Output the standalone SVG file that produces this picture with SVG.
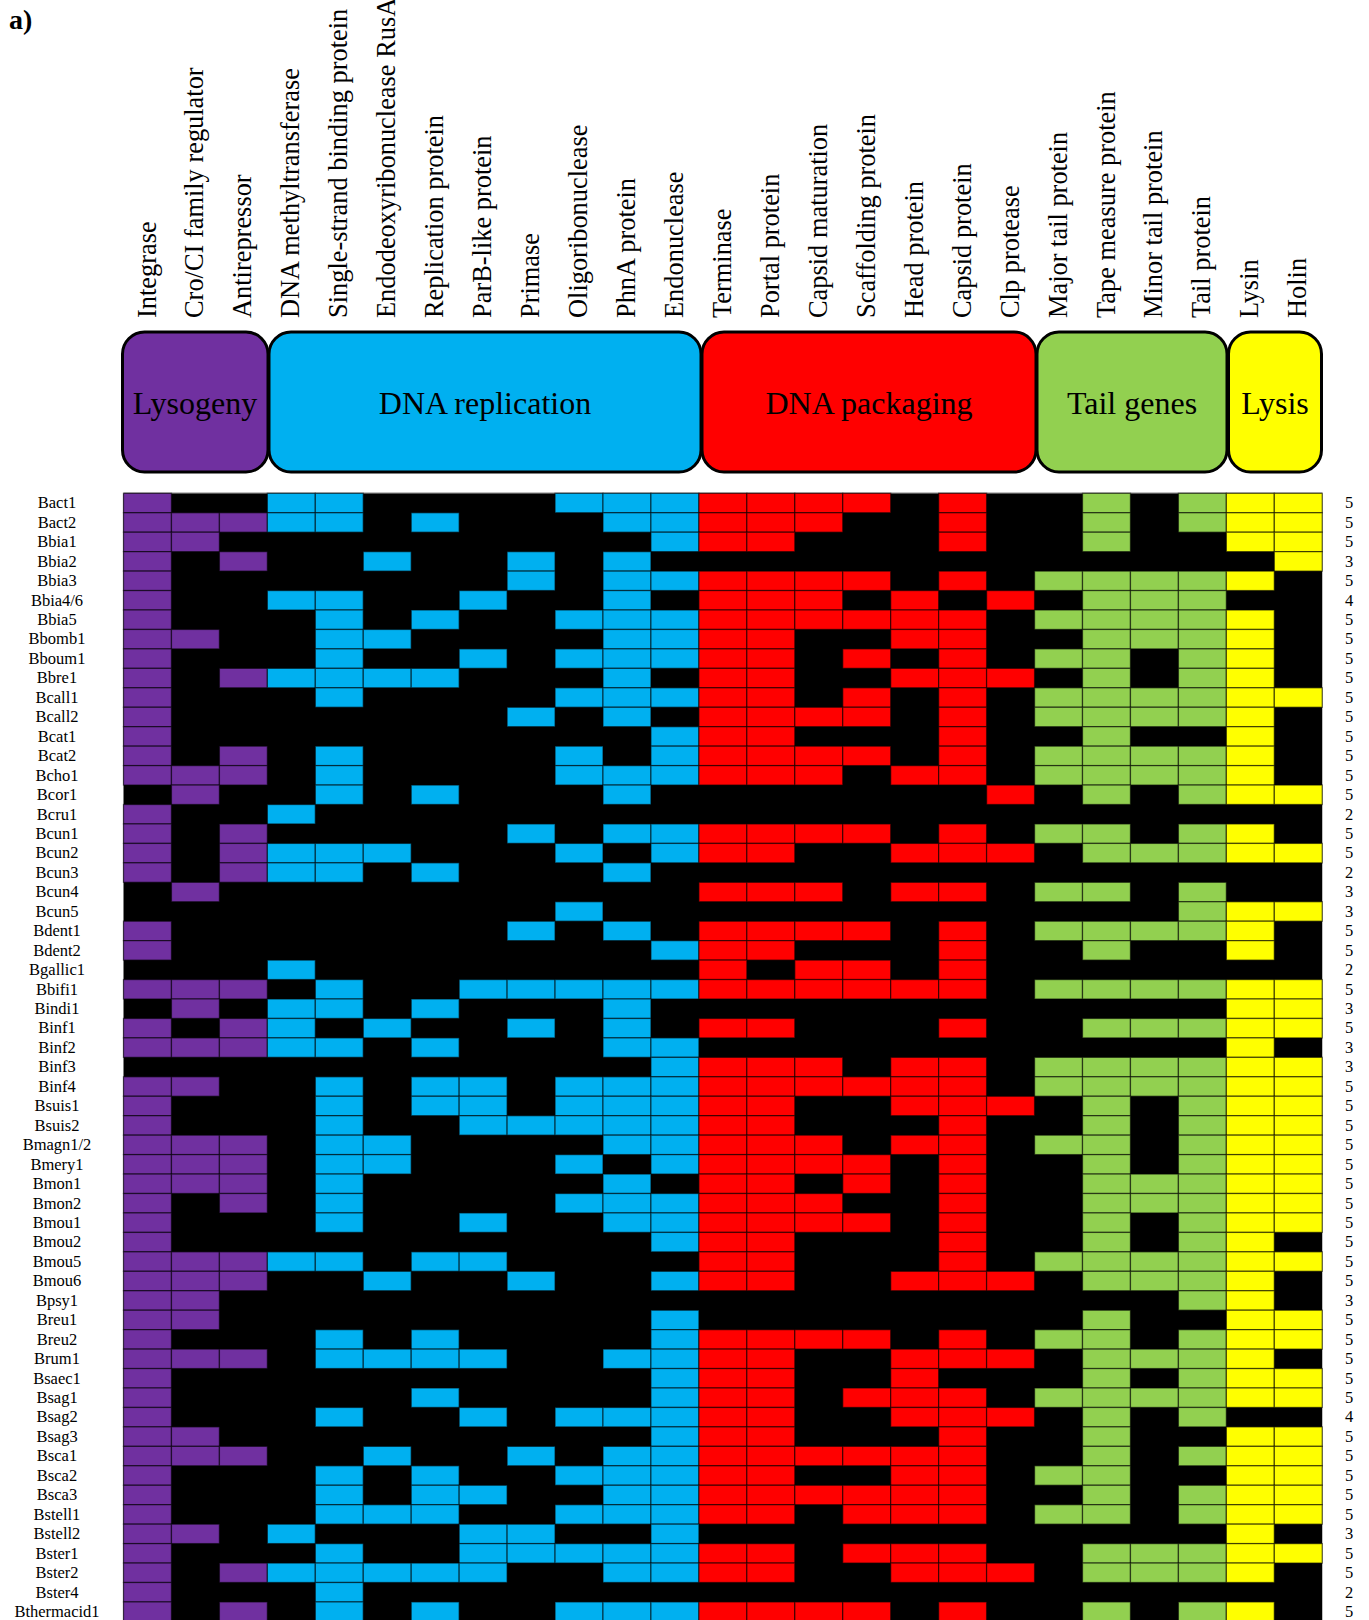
<svg xmlns="http://www.w3.org/2000/svg" xmlns:xlink="http://www.w3.org/1999/xlink" width="1369" height="1620" viewBox="0 0 1369 1620">
<style>
text{font-family:"Liberation Serif","Times New Roman",serif;fill:#000}
.cl{font-size:26.4px}
.cat{font-size:32px;text-anchor:middle}
.rl{font-size:16.5px;text-anchor:middle}
.rn{font-size:16.5px;text-anchor:middle}
.box{stroke:#000;stroke-width:3}
</style>
<defs>
<rect id="P" width="47.95" height="19.45" fill="#7030A0" stroke="#000" stroke-opacity="0.55" stroke-width="1.3"/>
<rect id="B" width="47.95" height="19.45" fill="#00B0F0" stroke="#000" stroke-opacity="0.55" stroke-width="1.3"/>
<rect id="R" width="47.95" height="19.45" fill="#FF0000" stroke="#000" stroke-opacity="0.55" stroke-width="1.3"/>
<rect id="G" width="47.95" height="19.45" fill="#92D050" stroke="#000" stroke-opacity="0.55" stroke-width="1.3"/>
<rect id="Y" width="47.95" height="19.45" fill="#FFFF00" stroke="#000" stroke-opacity="0.55" stroke-width="1.3"/>
</defs>
<rect width="1369" height="1620" fill="#fff"/>
<text x="9" y="29" style="font-size:28px;font-weight:bold">a)</text>

<g id="column-labels">
<text class="cl" transform="translate(155.5,318) rotate(-90)">Integrase</text>
<text class="cl" transform="translate(203.4,318) rotate(-90)">Cro/CI family regulator</text>
<text class="cl" transform="translate(251.4,318) rotate(-90)">Antirepressor</text>
<text class="cl" transform="translate(299.3,318) rotate(-90)">DNA methyltransferase</text>
<text class="cl" transform="translate(347.3,318) rotate(-90)">Single-strand binding protein</text>
<text class="cl" transform="translate(395.2,318) rotate(-90)">Endodeoxyribonuclease RusA</text>
<text class="cl" transform="translate(443.2,318) rotate(-90)">Replication protein</text>
<text class="cl" transform="translate(491.1,318) rotate(-90)">ParB-like protein</text>
<text class="cl" transform="translate(539.1,318) rotate(-90)">Primase</text>
<text class="cl" transform="translate(587,318) rotate(-90)">Oligoribonuclease</text>
<text class="cl" transform="translate(635,318) rotate(-90)">PhnA protein</text>
<text class="cl" transform="translate(682.9,318) rotate(-90)">Endonuclease</text>
<text class="cl" transform="translate(730.9,318) rotate(-90)">Terminase</text>
<text class="cl" transform="translate(778.8,318) rotate(-90)">Portal protein</text>
<text class="cl" transform="translate(826.8,318) rotate(-90)">Capsid maturation</text>
<text class="cl" transform="translate(874.7,318) rotate(-90)">Scaffolding protein</text>
<text class="cl" transform="translate(922.7,318) rotate(-90)">Head protein</text>
<text class="cl" transform="translate(970.6,318) rotate(-90)">Capsid protein</text>
<text class="cl" transform="translate(1018.6,318) rotate(-90)">Clp protease</text>
<text class="cl" transform="translate(1066.5,318) rotate(-90)">Major tail protein</text>
<text class="cl" transform="translate(1114.5,318) rotate(-90)">Tape measure protein</text>
<text class="cl" transform="translate(1162.4,318) rotate(-90)">Minor tail protein</text>
<text class="cl" transform="translate(1210.4,318) rotate(-90)">Tail protein</text>
<text class="cl" transform="translate(1258.3,318) rotate(-90)">Lysin</text>
<text class="cl" transform="translate(1306.3,318) rotate(-90)">Holin</text>
</g>

<g id="cat-lysogeny"><rect class="box" x="122.5" y="332" width="145.5" height="140" rx="22" fill="#7030A0"/><text class="cat" x="195" y="414">Lysogeny</text></g>
<g id="cat-dna-replication"><rect class="box" x="269" y="332" width="432" height="140" rx="22" fill="#00B0F0"/><text class="cat" x="485" y="414">DNA replication</text></g>
<g id="cat-dna-packaging"><rect class="box" x="702" y="332" width="334" height="140" rx="22" fill="#FF0000"/><text class="cat" x="869" y="414">DNA packaging</text></g>
<g id="cat-tail"><rect class="box" x="1037" y="332" width="190" height="140" rx="22" fill="#92D050"/><text class="cat" x="1132" y="414">Tail genes</text></g>
<g id="cat-lysis"><rect class="box" x="1228.5" y="332" width="93" height="140" rx="22" fill="#FFFF00"/><text class="cat" x="1275" y="414">Lysis</text></g>

<g id="grid">
<rect x="123.5" y="493.3" width="1198.75" height="1127" fill="#000"/>
<line x1="123.5" y1="492.6" x2="1322.25" y2="492.6" stroke="#bbb" stroke-width="1"/>

<g id="row-Bact1" transform="translate(0,493.3)"><text class="rl" x="57" y="15">Bact1</text><use href="#P" x="123.5"/><use href="#B" x="267.35"/><use href="#B" x="315.3"/><use href="#B" x="555.05"/><use href="#B" x="603"/><use href="#B" x="650.95"/><use href="#R" x="698.9"/><use href="#R" x="746.85"/><use href="#R" x="794.8"/><use href="#R" x="842.75"/><use href="#R" x="938.65"/><use href="#G" x="1082.5"/><use href="#G" x="1178.4"/><use href="#Y" x="1226.35"/><use href="#Y" x="1274.3"/><text class="rn" x="1349" y="15">5</text></g>
<g id="row-Bact2" transform="translate(0,512.75)"><text class="rl" x="57" y="15">Bact2</text><use href="#P" x="123.5"/><use href="#P" x="171.45"/><use href="#P" x="219.4"/><use href="#B" x="267.35"/><use href="#B" x="315.3"/><use href="#B" x="411.2"/><use href="#B" x="603"/><use href="#B" x="650.95"/><use href="#R" x="698.9"/><use href="#R" x="746.85"/><use href="#R" x="794.8"/><use href="#R" x="938.65"/><use href="#G" x="1082.5"/><use href="#G" x="1178.4"/><use href="#Y" x="1226.35"/><use href="#Y" x="1274.3"/><text class="rn" x="1349" y="15">5</text></g>
<g id="row-Bbia1" transform="translate(0,532.2)"><text class="rl" x="57" y="15">Bbia1</text><use href="#P" x="123.5"/><use href="#P" x="171.45"/><use href="#B" x="650.95"/><use href="#R" x="698.9"/><use href="#R" x="746.85"/><use href="#R" x="938.65"/><use href="#G" x="1082.5"/><use href="#Y" x="1226.35"/><use href="#Y" x="1274.3"/><text class="rn" x="1349" y="15">5</text></g>
<g id="row-Bbia2" transform="translate(0,551.65)"><text class="rl" x="57" y="15">Bbia2</text><use href="#P" x="123.5"/><use href="#P" x="219.4"/><use href="#B" x="363.25"/><use href="#B" x="507.1"/><use href="#B" x="603"/><use href="#Y" x="1274.3"/><text class="rn" x="1349" y="15">3</text></g>
<g id="row-Bbia3" transform="translate(0,571.1)"><text class="rl" x="57" y="15">Bbia3</text><use href="#P" x="123.5"/><use href="#B" x="507.1"/><use href="#B" x="603"/><use href="#B" x="650.95"/><use href="#R" x="698.9"/><use href="#R" x="746.85"/><use href="#R" x="794.8"/><use href="#R" x="842.75"/><use href="#R" x="938.65"/><use href="#G" x="1034.55"/><use href="#G" x="1082.5"/><use href="#G" x="1130.45"/><use href="#G" x="1178.4"/><use href="#Y" x="1226.35"/><text class="rn" x="1349" y="15">5</text></g>
<g id="row-Bbia4-6" transform="translate(0,590.55)"><text class="rl" x="57" y="15">Bbia4/6</text><use href="#P" x="123.5"/><use href="#B" x="267.35"/><use href="#B" x="315.3"/><use href="#B" x="459.15"/><use href="#B" x="603"/><use href="#R" x="698.9"/><use href="#R" x="746.85"/><use href="#R" x="794.8"/><use href="#R" x="890.7"/><use href="#R" x="986.6"/><use href="#G" x="1082.5"/><use href="#G" x="1130.45"/><use href="#G" x="1178.4"/><text class="rn" x="1349" y="15">4</text></g>
<g id="row-Bbia5" transform="translate(0,610)"><text class="rl" x="57" y="15">Bbia5</text><use href="#P" x="123.5"/><use href="#B" x="315.3"/><use href="#B" x="411.2"/><use href="#B" x="555.05"/><use href="#B" x="603"/><use href="#B" x="650.95"/><use href="#R" x="698.9"/><use href="#R" x="746.85"/><use href="#R" x="794.8"/><use href="#R" x="842.75"/><use href="#R" x="890.7"/><use href="#R" x="938.65"/><use href="#G" x="1034.55"/><use href="#G" x="1082.5"/><use href="#G" x="1130.45"/><use href="#G" x="1178.4"/><use href="#Y" x="1226.35"/><text class="rn" x="1349" y="15">5</text></g>
<g id="row-Bbomb1" transform="translate(0,629.45)"><text class="rl" x="57" y="15">Bbomb1</text><use href="#P" x="123.5"/><use href="#P" x="171.45"/><use href="#B" x="315.3"/><use href="#B" x="363.25"/><use href="#B" x="603"/><use href="#B" x="650.95"/><use href="#R" x="698.9"/><use href="#R" x="746.85"/><use href="#R" x="890.7"/><use href="#R" x="938.65"/><use href="#G" x="1082.5"/><use href="#G" x="1130.45"/><use href="#G" x="1178.4"/><use href="#Y" x="1226.35"/><text class="rn" x="1349" y="15">5</text></g>
<g id="row-Bboum1" transform="translate(0,648.9)"><text class="rl" x="57" y="15">Bboum1</text><use href="#P" x="123.5"/><use href="#B" x="315.3"/><use href="#B" x="459.15"/><use href="#B" x="555.05"/><use href="#B" x="603"/><use href="#B" x="650.95"/><use href="#R" x="698.9"/><use href="#R" x="746.85"/><use href="#R" x="842.75"/><use href="#R" x="938.65"/><use href="#G" x="1034.55"/><use href="#G" x="1082.5"/><use href="#G" x="1178.4"/><use href="#Y" x="1226.35"/><text class="rn" x="1349" y="15">5</text></g>
<g id="row-Bbre1" transform="translate(0,668.35)"><text class="rl" x="57" y="15">Bbre1</text><use href="#P" x="123.5"/><use href="#P" x="219.4"/><use href="#B" x="267.35"/><use href="#B" x="315.3"/><use href="#B" x="363.25"/><use href="#B" x="411.2"/><use href="#B" x="603"/><use href="#R" x="698.9"/><use href="#R" x="746.85"/><use href="#R" x="890.7"/><use href="#R" x="938.65"/><use href="#R" x="986.6"/><use href="#G" x="1082.5"/><use href="#G" x="1178.4"/><use href="#Y" x="1226.35"/><text class="rn" x="1349" y="15">5</text></g>
<g id="row-Bcall1" transform="translate(0,687.8)"><text class="rl" x="57" y="15">Bcall1</text><use href="#P" x="123.5"/><use href="#B" x="315.3"/><use href="#B" x="555.05"/><use href="#B" x="603"/><use href="#B" x="650.95"/><use href="#R" x="698.9"/><use href="#R" x="746.85"/><use href="#R" x="842.75"/><use href="#R" x="938.65"/><use href="#G" x="1034.55"/><use href="#G" x="1082.5"/><use href="#G" x="1130.45"/><use href="#G" x="1178.4"/><use href="#Y" x="1226.35"/><use href="#Y" x="1274.3"/><text class="rn" x="1349" y="15">5</text></g>
<g id="row-Bcall2" transform="translate(0,707.25)"><text class="rl" x="57" y="15">Bcall2</text><use href="#P" x="123.5"/><use href="#B" x="507.1"/><use href="#B" x="603"/><use href="#R" x="698.9"/><use href="#R" x="746.85"/><use href="#R" x="794.8"/><use href="#R" x="842.75"/><use href="#R" x="938.65"/><use href="#G" x="1034.55"/><use href="#G" x="1082.5"/><use href="#G" x="1130.45"/><use href="#G" x="1178.4"/><use href="#Y" x="1226.35"/><text class="rn" x="1349" y="15">5</text></g>
<g id="row-Bcat1" transform="translate(0,726.7)"><text class="rl" x="57" y="15">Bcat1</text><use href="#P" x="123.5"/><use href="#B" x="650.95"/><use href="#R" x="698.9"/><use href="#R" x="746.85"/><use href="#R" x="938.65"/><use href="#G" x="1082.5"/><use href="#Y" x="1226.35"/><text class="rn" x="1349" y="15">5</text></g>
<g id="row-Bcat2" transform="translate(0,746.15)"><text class="rl" x="57" y="15">Bcat2</text><use href="#P" x="123.5"/><use href="#P" x="219.4"/><use href="#B" x="315.3"/><use href="#B" x="555.05"/><use href="#B" x="650.95"/><use href="#R" x="698.9"/><use href="#R" x="746.85"/><use href="#R" x="794.8"/><use href="#R" x="842.75"/><use href="#R" x="938.65"/><use href="#G" x="1034.55"/><use href="#G" x="1082.5"/><use href="#G" x="1130.45"/><use href="#G" x="1178.4"/><use href="#Y" x="1226.35"/><text class="rn" x="1349" y="15">5</text></g>
<g id="row-Bcho1" transform="translate(0,765.6)"><text class="rl" x="57" y="15">Bcho1</text><use href="#P" x="123.5"/><use href="#P" x="171.45"/><use href="#P" x="219.4"/><use href="#B" x="315.3"/><use href="#B" x="555.05"/><use href="#B" x="603"/><use href="#B" x="650.95"/><use href="#R" x="698.9"/><use href="#R" x="746.85"/><use href="#R" x="794.8"/><use href="#R" x="890.7"/><use href="#R" x="938.65"/><use href="#G" x="1034.55"/><use href="#G" x="1082.5"/><use href="#G" x="1130.45"/><use href="#G" x="1178.4"/><use href="#Y" x="1226.35"/><text class="rn" x="1349" y="15">5</text></g>
<g id="row-Bcor1" transform="translate(0,785.05)"><text class="rl" x="57" y="15">Bcor1</text><use href="#P" x="171.45"/><use href="#B" x="315.3"/><use href="#B" x="411.2"/><use href="#B" x="603"/><use href="#R" x="986.6"/><use href="#G" x="1082.5"/><use href="#G" x="1178.4"/><use href="#Y" x="1226.35"/><use href="#Y" x="1274.3"/><text class="rn" x="1349" y="15">5</text></g>
<g id="row-Bcru1" transform="translate(0,804.5)"><text class="rl" x="57" y="15">Bcru1</text><use href="#P" x="123.5"/><use href="#B" x="267.35"/><text class="rn" x="1349" y="15">2</text></g>
<g id="row-Bcun1" transform="translate(0,823.95)"><text class="rl" x="57" y="15">Bcun1</text><use href="#P" x="123.5"/><use href="#P" x="219.4"/><use href="#B" x="507.1"/><use href="#B" x="603"/><use href="#B" x="650.95"/><use href="#R" x="698.9"/><use href="#R" x="746.85"/><use href="#R" x="794.8"/><use href="#R" x="842.75"/><use href="#R" x="938.65"/><use href="#G" x="1034.55"/><use href="#G" x="1082.5"/><use href="#G" x="1178.4"/><use href="#Y" x="1226.35"/><text class="rn" x="1349" y="15">5</text></g>
<g id="row-Bcun2" transform="translate(0,843.4)"><text class="rl" x="57" y="15">Bcun2</text><use href="#P" x="123.5"/><use href="#P" x="219.4"/><use href="#B" x="267.35"/><use href="#B" x="315.3"/><use href="#B" x="363.25"/><use href="#B" x="555.05"/><use href="#B" x="650.95"/><use href="#R" x="698.9"/><use href="#R" x="746.85"/><use href="#R" x="890.7"/><use href="#R" x="938.65"/><use href="#R" x="986.6"/><use href="#G" x="1082.5"/><use href="#G" x="1130.45"/><use href="#G" x="1178.4"/><use href="#Y" x="1226.35"/><use href="#Y" x="1274.3"/><text class="rn" x="1349" y="15">5</text></g>
<g id="row-Bcun3" transform="translate(0,862.85)"><text class="rl" x="57" y="15">Bcun3</text><use href="#P" x="123.5"/><use href="#P" x="219.4"/><use href="#B" x="267.35"/><use href="#B" x="315.3"/><use href="#B" x="411.2"/><use href="#B" x="603"/><text class="rn" x="1349" y="15">2</text></g>
<g id="row-Bcun4" transform="translate(0,882.3)"><text class="rl" x="57" y="15">Bcun4</text><use href="#P" x="171.45"/><use href="#R" x="698.9"/><use href="#R" x="746.85"/><use href="#R" x="794.8"/><use href="#R" x="890.7"/><use href="#R" x="938.65"/><use href="#G" x="1034.55"/><use href="#G" x="1082.5"/><use href="#G" x="1178.4"/><text class="rn" x="1349" y="15">3</text></g>
<g id="row-Bcun5" transform="translate(0,901.75)"><text class="rl" x="57" y="15">Bcun5</text><use href="#B" x="555.05"/><use href="#G" x="1178.4"/><use href="#Y" x="1226.35"/><use href="#Y" x="1274.3"/><text class="rn" x="1349" y="15">3</text></g>
<g id="row-Bdent1" transform="translate(0,921.2)"><text class="rl" x="57" y="15">Bdent1</text><use href="#P" x="123.5"/><use href="#B" x="507.1"/><use href="#B" x="603"/><use href="#R" x="698.9"/><use href="#R" x="746.85"/><use href="#R" x="794.8"/><use href="#R" x="842.75"/><use href="#R" x="938.65"/><use href="#G" x="1034.55"/><use href="#G" x="1082.5"/><use href="#G" x="1130.45"/><use href="#G" x="1178.4"/><use href="#Y" x="1226.35"/><text class="rn" x="1349" y="15">5</text></g>
<g id="row-Bdent2" transform="translate(0,940.65)"><text class="rl" x="57" y="15">Bdent2</text><use href="#P" x="123.5"/><use href="#B" x="650.95"/><use href="#R" x="698.9"/><use href="#R" x="746.85"/><use href="#R" x="938.65"/><use href="#G" x="1082.5"/><use href="#Y" x="1226.35"/><text class="rn" x="1349" y="15">5</text></g>
<g id="row-Bgallic1" transform="translate(0,960.1)"><text class="rl" x="57" y="15">Bgallic1</text><use href="#B" x="267.35"/><use href="#R" x="698.9"/><use href="#R" x="794.8"/><use href="#R" x="842.75"/><use href="#R" x="938.65"/><text class="rn" x="1349" y="15">2</text></g>
<g id="row-Bbifi1" transform="translate(0,979.55)"><text class="rl" x="57" y="15">Bbifi1</text><use href="#P" x="123.5"/><use href="#P" x="171.45"/><use href="#P" x="219.4"/><use href="#B" x="315.3"/><use href="#B" x="459.15"/><use href="#B" x="507.1"/><use href="#B" x="555.05"/><use href="#B" x="603"/><use href="#B" x="650.95"/><use href="#R" x="698.9"/><use href="#R" x="746.85"/><use href="#R" x="794.8"/><use href="#R" x="842.75"/><use href="#R" x="890.7"/><use href="#R" x="938.65"/><use href="#G" x="1034.55"/><use href="#G" x="1082.5"/><use href="#G" x="1130.45"/><use href="#G" x="1178.4"/><use href="#Y" x="1226.35"/><use href="#Y" x="1274.3"/><text class="rn" x="1349" y="15">5</text></g>
<g id="row-Bindi1" transform="translate(0,999)"><text class="rl" x="57" y="15">Bindi1</text><use href="#P" x="171.45"/><use href="#B" x="267.35"/><use href="#B" x="315.3"/><use href="#B" x="411.2"/><use href="#B" x="603"/><use href="#Y" x="1226.35"/><use href="#Y" x="1274.3"/><text class="rn" x="1349" y="15">3</text></g>
<g id="row-Binf1" transform="translate(0,1018.45)"><text class="rl" x="57" y="15">Binf1</text><use href="#P" x="123.5"/><use href="#P" x="219.4"/><use href="#B" x="267.35"/><use href="#B" x="363.25"/><use href="#B" x="507.1"/><use href="#B" x="603"/><use href="#R" x="698.9"/><use href="#R" x="746.85"/><use href="#R" x="938.65"/><use href="#G" x="1082.5"/><use href="#G" x="1130.45"/><use href="#G" x="1178.4"/><use href="#Y" x="1226.35"/><use href="#Y" x="1274.3"/><text class="rn" x="1349" y="15">5</text></g>
<g id="row-Binf2" transform="translate(0,1037.9)"><text class="rl" x="57" y="15">Binf2</text><use href="#P" x="123.5"/><use href="#P" x="171.45"/><use href="#P" x="219.4"/><use href="#B" x="267.35"/><use href="#B" x="315.3"/><use href="#B" x="411.2"/><use href="#B" x="603"/><use href="#B" x="650.95"/><use href="#Y" x="1226.35"/><text class="rn" x="1349" y="15">3</text></g>
<g id="row-Binf3" transform="translate(0,1057.35)"><text class="rl" x="57" y="15">Binf3</text><use href="#B" x="650.95"/><use href="#R" x="698.9"/><use href="#R" x="746.85"/><use href="#R" x="794.8"/><use href="#R" x="890.7"/><use href="#R" x="938.65"/><use href="#G" x="1034.55"/><use href="#G" x="1082.5"/><use href="#G" x="1130.45"/><use href="#G" x="1178.4"/><use href="#Y" x="1226.35"/><use href="#Y" x="1274.3"/><text class="rn" x="1349" y="15">3</text></g>
<g id="row-Binf4" transform="translate(0,1076.8)"><text class="rl" x="57" y="15">Binf4</text><use href="#P" x="123.5"/><use href="#P" x="171.45"/><use href="#B" x="315.3"/><use href="#B" x="411.2"/><use href="#B" x="459.15"/><use href="#B" x="555.05"/><use href="#B" x="603"/><use href="#B" x="650.95"/><use href="#R" x="698.9"/><use href="#R" x="746.85"/><use href="#R" x="794.8"/><use href="#R" x="842.75"/><use href="#R" x="890.7"/><use href="#R" x="938.65"/><use href="#G" x="1034.55"/><use href="#G" x="1082.5"/><use href="#G" x="1130.45"/><use href="#G" x="1178.4"/><use href="#Y" x="1226.35"/><use href="#Y" x="1274.3"/><text class="rn" x="1349" y="15">5</text></g>
<g id="row-Bsuis1" transform="translate(0,1096.25)"><text class="rl" x="57" y="15">Bsuis1</text><use href="#P" x="123.5"/><use href="#B" x="315.3"/><use href="#B" x="411.2"/><use href="#B" x="459.15"/><use href="#B" x="555.05"/><use href="#B" x="603"/><use href="#B" x="650.95"/><use href="#R" x="698.9"/><use href="#R" x="746.85"/><use href="#R" x="890.7"/><use href="#R" x="938.65"/><use href="#R" x="986.6"/><use href="#G" x="1082.5"/><use href="#G" x="1178.4"/><use href="#Y" x="1226.35"/><use href="#Y" x="1274.3"/><text class="rn" x="1349" y="15">5</text></g>
<g id="row-Bsuis2" transform="translate(0,1115.7)"><text class="rl" x="57" y="15">Bsuis2</text><use href="#P" x="123.5"/><use href="#B" x="315.3"/><use href="#B" x="459.15"/><use href="#B" x="507.1"/><use href="#B" x="555.05"/><use href="#B" x="603"/><use href="#B" x="650.95"/><use href="#R" x="698.9"/><use href="#R" x="746.85"/><use href="#R" x="938.65"/><use href="#G" x="1082.5"/><use href="#G" x="1178.4"/><use href="#Y" x="1226.35"/><use href="#Y" x="1274.3"/><text class="rn" x="1349" y="15">5</text></g>
<g id="row-Bmagn1-2" transform="translate(0,1135.15)"><text class="rl" x="57" y="15">Bmagn1/2</text><use href="#P" x="123.5"/><use href="#P" x="171.45"/><use href="#P" x="219.4"/><use href="#B" x="315.3"/><use href="#B" x="363.25"/><use href="#B" x="603"/><use href="#B" x="650.95"/><use href="#R" x="698.9"/><use href="#R" x="746.85"/><use href="#R" x="794.8"/><use href="#R" x="890.7"/><use href="#R" x="938.65"/><use href="#G" x="1034.55"/><use href="#G" x="1082.5"/><use href="#G" x="1178.4"/><use href="#Y" x="1226.35"/><use href="#Y" x="1274.3"/><text class="rn" x="1349" y="15">5</text></g>
<g id="row-Bmery1" transform="translate(0,1154.6)"><text class="rl" x="57" y="15">Bmery1</text><use href="#P" x="123.5"/><use href="#P" x="171.45"/><use href="#P" x="219.4"/><use href="#B" x="315.3"/><use href="#B" x="363.25"/><use href="#B" x="555.05"/><use href="#B" x="650.95"/><use href="#R" x="698.9"/><use href="#R" x="746.85"/><use href="#R" x="794.8"/><use href="#R" x="842.75"/><use href="#R" x="938.65"/><use href="#G" x="1082.5"/><use href="#G" x="1178.4"/><use href="#Y" x="1226.35"/><use href="#Y" x="1274.3"/><text class="rn" x="1349" y="15">5</text></g>
<g id="row-Bmon1" transform="translate(0,1174.05)"><text class="rl" x="57" y="15">Bmon1</text><use href="#P" x="123.5"/><use href="#P" x="171.45"/><use href="#P" x="219.4"/><use href="#B" x="315.3"/><use href="#B" x="603"/><use href="#R" x="698.9"/><use href="#R" x="746.85"/><use href="#R" x="842.75"/><use href="#R" x="938.65"/><use href="#G" x="1082.5"/><use href="#G" x="1130.45"/><use href="#G" x="1178.4"/><use href="#Y" x="1226.35"/><use href="#Y" x="1274.3"/><text class="rn" x="1349" y="15">5</text></g>
<g id="row-Bmon2" transform="translate(0,1193.5)"><text class="rl" x="57" y="15">Bmon2</text><use href="#P" x="123.5"/><use href="#P" x="219.4"/><use href="#B" x="315.3"/><use href="#B" x="555.05"/><use href="#B" x="603"/><use href="#B" x="650.95"/><use href="#R" x="698.9"/><use href="#R" x="746.85"/><use href="#R" x="794.8"/><use href="#R" x="938.65"/><use href="#G" x="1082.5"/><use href="#G" x="1130.45"/><use href="#G" x="1178.4"/><use href="#Y" x="1226.35"/><use href="#Y" x="1274.3"/><text class="rn" x="1349" y="15">5</text></g>
<g id="row-Bmou1" transform="translate(0,1212.95)"><text class="rl" x="57" y="15">Bmou1</text><use href="#P" x="123.5"/><use href="#B" x="315.3"/><use href="#B" x="459.15"/><use href="#B" x="603"/><use href="#B" x="650.95"/><use href="#R" x="698.9"/><use href="#R" x="746.85"/><use href="#R" x="794.8"/><use href="#R" x="842.75"/><use href="#R" x="938.65"/><use href="#G" x="1082.5"/><use href="#G" x="1178.4"/><use href="#Y" x="1226.35"/><use href="#Y" x="1274.3"/><text class="rn" x="1349" y="15">5</text></g>
<g id="row-Bmou2" transform="translate(0,1232.4)"><text class="rl" x="57" y="15">Bmou2</text><use href="#P" x="123.5"/><use href="#B" x="650.95"/><use href="#R" x="698.9"/><use href="#R" x="746.85"/><use href="#R" x="938.65"/><use href="#G" x="1082.5"/><use href="#G" x="1178.4"/><use href="#Y" x="1226.35"/><text class="rn" x="1349" y="15">5</text></g>
<g id="row-Bmou5" transform="translate(0,1251.85)"><text class="rl" x="57" y="15">Bmou5</text><use href="#P" x="123.5"/><use href="#P" x="171.45"/><use href="#P" x="219.4"/><use href="#B" x="267.35"/><use href="#B" x="315.3"/><use href="#B" x="411.2"/><use href="#B" x="459.15"/><use href="#R" x="698.9"/><use href="#R" x="746.85"/><use href="#R" x="938.65"/><use href="#G" x="1034.55"/><use href="#G" x="1082.5"/><use href="#G" x="1130.45"/><use href="#G" x="1178.4"/><use href="#Y" x="1226.35"/><use href="#Y" x="1274.3"/><text class="rn" x="1349" y="15">5</text></g>
<g id="row-Bmou6" transform="translate(0,1271.3)"><text class="rl" x="57" y="15">Bmou6</text><use href="#P" x="123.5"/><use href="#P" x="171.45"/><use href="#P" x="219.4"/><use href="#B" x="363.25"/><use href="#B" x="507.1"/><use href="#B" x="650.95"/><use href="#R" x="698.9"/><use href="#R" x="746.85"/><use href="#R" x="890.7"/><use href="#R" x="938.65"/><use href="#R" x="986.6"/><use href="#G" x="1082.5"/><use href="#G" x="1130.45"/><use href="#G" x="1178.4"/><use href="#Y" x="1226.35"/><text class="rn" x="1349" y="15">5</text></g>
<g id="row-Bpsy1" transform="translate(0,1290.75)"><text class="rl" x="57" y="15">Bpsy1</text><use href="#P" x="123.5"/><use href="#P" x="171.45"/><use href="#G" x="1178.4"/><use href="#Y" x="1226.35"/><text class="rn" x="1349" y="15">3</text></g>
<g id="row-Breu1" transform="translate(0,1310.2)"><text class="rl" x="57" y="15">Breu1</text><use href="#P" x="123.5"/><use href="#P" x="171.45"/><use href="#B" x="650.95"/><use href="#G" x="1082.5"/><use href="#Y" x="1226.35"/><use href="#Y" x="1274.3"/><text class="rn" x="1349" y="15">5</text></g>
<g id="row-Breu2" transform="translate(0,1329.65)"><text class="rl" x="57" y="15">Breu2</text><use href="#P" x="123.5"/><use href="#B" x="315.3"/><use href="#B" x="411.2"/><use href="#B" x="650.95"/><use href="#R" x="698.9"/><use href="#R" x="746.85"/><use href="#R" x="794.8"/><use href="#R" x="842.75"/><use href="#R" x="938.65"/><use href="#G" x="1034.55"/><use href="#G" x="1082.5"/><use href="#G" x="1178.4"/><use href="#Y" x="1226.35"/><use href="#Y" x="1274.3"/><text class="rn" x="1349" y="15">5</text></g>
<g id="row-Brum1" transform="translate(0,1349.1)"><text class="rl" x="57" y="15">Brum1</text><use href="#P" x="123.5"/><use href="#P" x="171.45"/><use href="#P" x="219.4"/><use href="#B" x="315.3"/><use href="#B" x="363.25"/><use href="#B" x="411.2"/><use href="#B" x="459.15"/><use href="#B" x="603"/><use href="#B" x="650.95"/><use href="#R" x="698.9"/><use href="#R" x="746.85"/><use href="#R" x="890.7"/><use href="#R" x="938.65"/><use href="#R" x="986.6"/><use href="#G" x="1082.5"/><use href="#G" x="1130.45"/><use href="#G" x="1178.4"/><use href="#Y" x="1226.35"/><text class="rn" x="1349" y="15">5</text></g>
<g id="row-Bsaec1" transform="translate(0,1368.55)"><text class="rl" x="57" y="15">Bsaec1</text><use href="#P" x="123.5"/><use href="#B" x="650.95"/><use href="#R" x="698.9"/><use href="#R" x="746.85"/><use href="#R" x="890.7"/><use href="#G" x="1082.5"/><use href="#G" x="1178.4"/><use href="#Y" x="1226.35"/><use href="#Y" x="1274.3"/><text class="rn" x="1349" y="15">5</text></g>
<g id="row-Bsag1" transform="translate(0,1388)"><text class="rl" x="57" y="15">Bsag1</text><use href="#P" x="123.5"/><use href="#B" x="411.2"/><use href="#B" x="650.95"/><use href="#R" x="698.9"/><use href="#R" x="746.85"/><use href="#R" x="842.75"/><use href="#R" x="890.7"/><use href="#R" x="938.65"/><use href="#G" x="1034.55"/><use href="#G" x="1082.5"/><use href="#G" x="1130.45"/><use href="#G" x="1178.4"/><use href="#Y" x="1226.35"/><use href="#Y" x="1274.3"/><text class="rn" x="1349" y="15">5</text></g>
<g id="row-Bsag2" transform="translate(0,1407.45)"><text class="rl" x="57" y="15">Bsag2</text><use href="#P" x="123.5"/><use href="#B" x="315.3"/><use href="#B" x="459.15"/><use href="#B" x="555.05"/><use href="#B" x="603"/><use href="#B" x="650.95"/><use href="#R" x="698.9"/><use href="#R" x="746.85"/><use href="#R" x="890.7"/><use href="#R" x="938.65"/><use href="#R" x="986.6"/><use href="#G" x="1082.5"/><use href="#G" x="1178.4"/><text class="rn" x="1349" y="15">4</text></g>
<g id="row-Bsag3" transform="translate(0,1426.9)"><text class="rl" x="57" y="15">Bsag3</text><use href="#P" x="123.5"/><use href="#P" x="171.45"/><use href="#B" x="650.95"/><use href="#R" x="698.9"/><use href="#R" x="746.85"/><use href="#R" x="938.65"/><use href="#G" x="1082.5"/><use href="#Y" x="1226.35"/><use href="#Y" x="1274.3"/><text class="rn" x="1349" y="15">5</text></g>
<g id="row-Bsca1" transform="translate(0,1446.35)"><text class="rl" x="57" y="15">Bsca1</text><use href="#P" x="123.5"/><use href="#P" x="171.45"/><use href="#P" x="219.4"/><use href="#B" x="363.25"/><use href="#B" x="507.1"/><use href="#B" x="603"/><use href="#B" x="650.95"/><use href="#R" x="698.9"/><use href="#R" x="746.85"/><use href="#R" x="794.8"/><use href="#R" x="842.75"/><use href="#R" x="890.7"/><use href="#R" x="938.65"/><use href="#G" x="1082.5"/><use href="#G" x="1178.4"/><use href="#Y" x="1226.35"/><use href="#Y" x="1274.3"/><text class="rn" x="1349" y="15">5</text></g>
<g id="row-Bsca2" transform="translate(0,1465.8)"><text class="rl" x="57" y="15">Bsca2</text><use href="#P" x="123.5"/><use href="#B" x="315.3"/><use href="#B" x="411.2"/><use href="#B" x="555.05"/><use href="#B" x="603"/><use href="#B" x="650.95"/><use href="#R" x="698.9"/><use href="#R" x="746.85"/><use href="#R" x="890.7"/><use href="#R" x="938.65"/><use href="#G" x="1034.55"/><use href="#G" x="1082.5"/><use href="#Y" x="1226.35"/><use href="#Y" x="1274.3"/><text class="rn" x="1349" y="15">5</text></g>
<g id="row-Bsca3" transform="translate(0,1485.25)"><text class="rl" x="57" y="15">Bsca3</text><use href="#P" x="123.5"/><use href="#B" x="315.3"/><use href="#B" x="411.2"/><use href="#B" x="459.15"/><use href="#B" x="603"/><use href="#B" x="650.95"/><use href="#R" x="698.9"/><use href="#R" x="746.85"/><use href="#R" x="794.8"/><use href="#R" x="842.75"/><use href="#R" x="890.7"/><use href="#R" x="938.65"/><use href="#G" x="1082.5"/><use href="#G" x="1178.4"/><use href="#Y" x="1226.35"/><use href="#Y" x="1274.3"/><text class="rn" x="1349" y="15">5</text></g>
<g id="row-Bstell1" transform="translate(0,1504.7)"><text class="rl" x="57" y="15">Bstell1</text><use href="#P" x="123.5"/><use href="#B" x="315.3"/><use href="#B" x="363.25"/><use href="#B" x="411.2"/><use href="#B" x="555.05"/><use href="#B" x="603"/><use href="#B" x="650.95"/><use href="#R" x="698.9"/><use href="#R" x="746.85"/><use href="#R" x="842.75"/><use href="#R" x="890.7"/><use href="#R" x="938.65"/><use href="#G" x="1034.55"/><use href="#G" x="1082.5"/><use href="#G" x="1178.4"/><use href="#Y" x="1226.35"/><use href="#Y" x="1274.3"/><text class="rn" x="1349" y="15">5</text></g>
<g id="row-Bstell2" transform="translate(0,1524.15)"><text class="rl" x="57" y="15">Bstell2</text><use href="#P" x="123.5"/><use href="#P" x="171.45"/><use href="#B" x="267.35"/><use href="#B" x="459.15"/><use href="#B" x="507.1"/><use href="#B" x="650.95"/><use href="#Y" x="1226.35"/><text class="rn" x="1349" y="15">3</text></g>
<g id="row-Bster1" transform="translate(0,1543.6)"><text class="rl" x="57" y="15">Bster1</text><use href="#P" x="123.5"/><use href="#B" x="315.3"/><use href="#B" x="459.15"/><use href="#B" x="507.1"/><use href="#B" x="555.05"/><use href="#B" x="603"/><use href="#B" x="650.95"/><use href="#R" x="698.9"/><use href="#R" x="746.85"/><use href="#R" x="842.75"/><use href="#R" x="890.7"/><use href="#R" x="938.65"/><use href="#G" x="1082.5"/><use href="#G" x="1130.45"/><use href="#G" x="1178.4"/><use href="#Y" x="1226.35"/><use href="#Y" x="1274.3"/><text class="rn" x="1349" y="15">5</text></g>
<g id="row-Bster2" transform="translate(0,1563.05)"><text class="rl" x="57" y="15">Bster2</text><use href="#P" x="123.5"/><use href="#P" x="219.4"/><use href="#B" x="267.35"/><use href="#B" x="315.3"/><use href="#B" x="363.25"/><use href="#B" x="411.2"/><use href="#B" x="459.15"/><use href="#B" x="603"/><use href="#B" x="650.95"/><use href="#R" x="698.9"/><use href="#R" x="746.85"/><use href="#R" x="890.7"/><use href="#R" x="938.65"/><use href="#R" x="986.6"/><use href="#G" x="1082.5"/><use href="#G" x="1130.45"/><use href="#G" x="1178.4"/><use href="#Y" x="1226.35"/><text class="rn" x="1349" y="15">5</text></g>
<g id="row-Bster4" transform="translate(0,1582.5)"><text class="rl" x="57" y="15">Bster4</text><use href="#P" x="123.5"/><use href="#B" x="315.3"/><text class="rn" x="1349" y="15">2</text></g>
<g id="row-Bthermacid1" transform="translate(0,1601.95)"><text class="rl" x="57" y="15">Bthermacid1</text><use href="#P" x="123.5"/><use href="#P" x="219.4"/><use href="#B" x="315.3"/><use href="#B" x="411.2"/><use href="#B" x="555.05"/><use href="#B" x="603"/><use href="#B" x="650.95"/><use href="#R" x="698.9"/><use href="#R" x="746.85"/><use href="#R" x="794.8"/><use href="#R" x="842.75"/><use href="#R" x="938.65"/><use href="#G" x="1082.5"/><use href="#G" x="1178.4"/><use href="#Y" x="1226.35"/><text class="rn" x="1349" y="15">5</text></g>
</g>
<g id="connectors"/>
</svg>
